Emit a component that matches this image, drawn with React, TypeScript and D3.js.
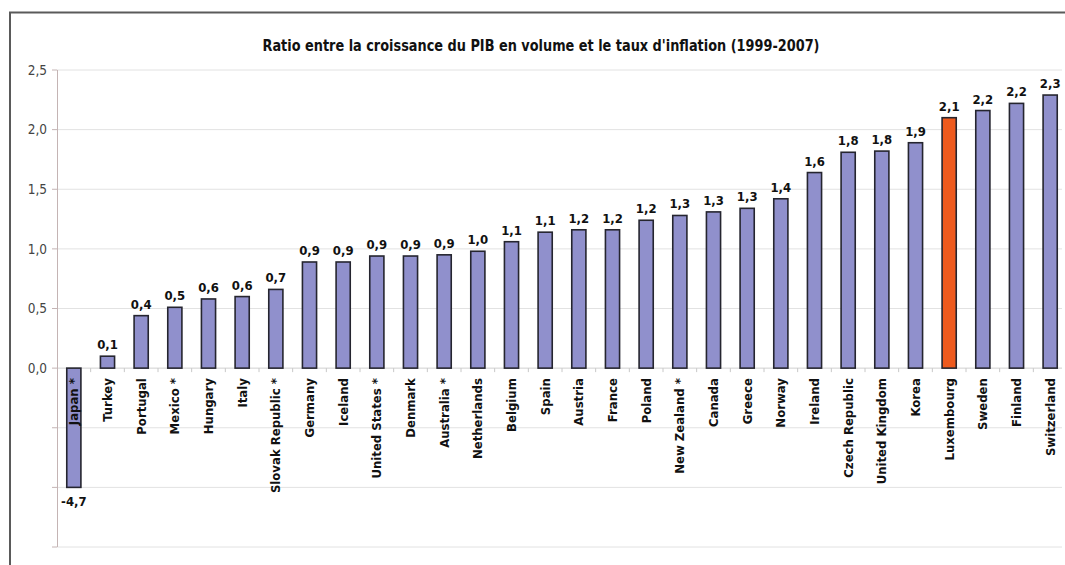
import React from "react";
import * as d3 from "d3";

const categories = [
  "Japan *", "Turkey", "Portugal", "Mexico *", "Hungary", "Italy", "Slovak Republic *",
  "Germany", "Iceland", "United States *", "Denmark", "Australia *", "Netherlands",
  "Belgium", "Spain", "Austria", "France", "Poland", "New Zealand *", "Canada",
  "Greece", "Norway", "Ireland", "Czech Republic", "United Kingdom", "Korea",
  "Luxembourg", "Sweden", "Finland", "Switzerland",
];
const values = [
  -4.7, 0.1, 0.44, 0.51, 0.58, 0.6, 0.66,
  0.89, 0.89, 0.94, 0.94, 0.95, 0.98,
  1.06, 1.14, 1.16, 1.16, 1.24, 1.28, 1.31,
  1.34, 1.42, 1.64, 1.81, 1.82, 1.89,
  2.1, 2.16, 2.22, 2.29,
];
const highlighted = ["Luxembourg"];
const yTickValues = [0, 0.5, 1.0, 1.5, 2.0, 2.5];
const gridValues = [-1.5, -1.0, -0.5, 0, 0.5, 1.0, 1.5, 2.0, 2.5];
const axisBreak = -1.0; // values below are truncated at the axis break
const title = "Ratio entre la croissance du PIB en volume et le taux d'inflation (1999-2007)";

const W = 1065;
const H = 565;
const FONT = "'Liberation Sans Narrow', 'DejaVu Sans Condensed', 'Arial Narrow', sans-serif";

export default function App() {
  const x = d3.scaleBand<string>().domain(categories).range([57, 1067]).paddingInner(0.58).paddingOuter(0.29);
  const band = d3.scaleBand<string>().domain(categories).range([57, 1067]);
  const y = d3.scaleLinear().domain([-1.5, 2.5]).range([547, 70]);
  const fmt = (v: number) => d3.format(".1f")(v).replace(".", ",").replace("−", "-");
  const bw = x.bandwidth();

  return (
    <svg width={W} height={H} style={{ position: "absolute", left: 0, top: 0, background: "#fff" }}>
      <rect x={0} y={0} width={W} height={H} fill="#fff" />
      {/* frame */}
      <line x1={9} x2={W} y1={12.5} y2={12.5} stroke="#5a5a5a" strokeWidth={2} />
      <line x1={10} x2={10} y1={12} y2={H} stroke="#5a5a5a" strokeWidth={2} />

      <text x={541} y={51} textAnchor="middle" fontFamily={FONT} fontWeight="bold" fontSize={15.5} fill="#111"
        textLength={557} lengthAdjust="spacingAndGlyphs">
        {title}
      </text>

      {/* gridlines */}
      {gridValues.map((g) => (
        <g key={g}>
          <line x1={57} x2={1062} y1={y(g)} y2={y(g)} stroke={g === 0 ? "#cfcfcf" : "#e2e2e2"} strokeWidth={1} />
          <line x1={52} x2={57} y1={y(g)} y2={y(g)} stroke="#c4b4b4" strokeWidth={1} />
        </g>
      ))}
      <line x1={57.5} x2={57.5} y1={y(2.5)} y2={y(-1.5)} stroke="#c4b4b4" strokeWidth={1} />

      {yTickValues.map((t) => (
        <text key={t} x={47} y={y(t)} dy="0.35em" textAnchor="end" fontFamily={FONT} fontSize={13.5} fill="#444">
          {fmt(t)}
        </text>
      ))}

      {/* category ticks on zero line */}
      {categories.map((c) => (
        <line key={"t" + c} x1={(band(c) as number) + band.bandwidth()} x2={(band(c) as number) + band.bandwidth()}
          y1={y(0)} y2={y(0) + 4} stroke="#c8c8c8" strokeWidth={1} />
      ))}

      {/* bars */}
      {categories.map((c, i) => {
        const v = values[i];
        const shown = Math.max(v, axisBreak);
        const y0 = y(Math.max(0, shown));
        const h = Math.abs(y(shown) - y(0));
        return (
          <rect key={c} x={x(c)} y={y0} width={bw} height={h}
            fill={highlighted.includes(c) ? "#ee5a1e" : "#9090cc"} stroke="#25252f" strokeWidth={1.6} />
        );
      })}

      {/* value labels */}
      {categories.map((c, i) => {
        const v = values[i];
        const shown = Math.max(v, axisBreak);
        const cx = (x(c) as number) + bw / 2;
        const ly = v >= 0 ? y(shown) - 7 : y(shown) + 19;
        return (
          <text key={"v" + c} x={cx} y={ly} textAnchor="middle" fontFamily={FONT} fontWeight="bold" fontSize={13} fill="#111">
            {fmt(v)}
          </text>
        );
      })}

      {/* category labels */}
      {categories.map((c) => {
        const cx = (x(c) as number) + bw / 2;
        return (
          <text key={"c" + c} transform={`translate(${cx},${y(0) + 10}) rotate(-90)`} dy="0.35em"
            textAnchor="end" fontFamily={FONT} fontWeight="bold" fontSize={13} fill="#111">
            {c}
          </text>
        );
      })}
    </svg>
  );
}
